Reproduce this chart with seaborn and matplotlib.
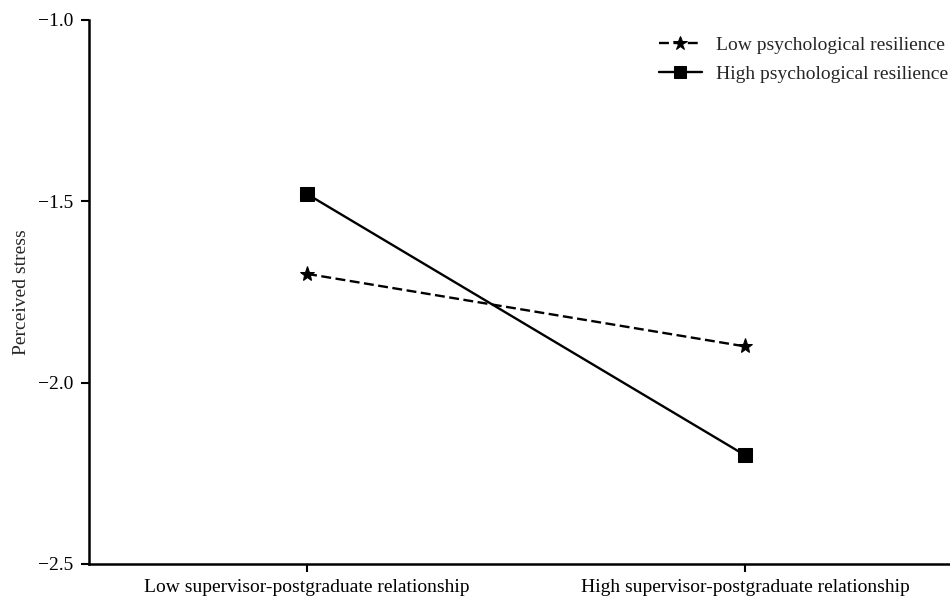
import matplotlib
matplotlib.use("Agg")
import matplotlib.pyplot as plt
import seaborn as sns
import pandas as pd

# Simple-slopes data: perceived stress by supervisor relationship and resilience
conditions = ["Low supervisor-postgraduate relationship",
              "High supervisor-postgraduate relationship"]
low_resilience = [-1.70, -1.90]
high_resilience = [-1.48, -2.20]
series_names = ["Low psychological resilience", "High psychological resilience"]
y_ticks = [-1.0, -1.5, -2.0, -2.5]

sns.set_theme(style="ticks")
plt.rcParams["font.family"] = ["Liberation Serif", "DejaVu Serif"]
FS = 14

df = pd.DataFrame({
    "pos": [0, 1, 0, 1],
    "stress": low_resilience + high_resilience,
    "group": [series_names[0]] * 2 + [series_names[1]] * 2,
})

fig = plt.figure(figsize=(9.5, 5.96), dpi=100)
ax = fig.add_axes([89 / 950, 32 / 596, (950 - 89) / 950, (564 - 20) / 596])

sns.lineplot(
    data=df, x="pos", y="stress", style="group", style_order=series_names,
    markers={series_names[0]: "*", series_names[1]: "s"},
    dashes={series_names[0]: (4.2, 1.9), series_names[1]: ""},
    color="black", linewidth=1.7, markeredgecolor="black",
    ax=ax, legend=True,
)
for line in ax.lines:
    if line.get_marker() == "*":
        line.set_markersize(11)
    else:
        line.set_markersize(10)

ax.set_xlim(-0.498, 1.468)
ax.set_ylim(-2.5, -1.0)
ax.set_xticks([0, 1])
ax.set_xticklabels(conditions, fontsize=FS)
ax.set_yticks(y_ticks)
ax.set_yticklabels([f"\u2212{abs(v):.1f}" for v in y_ticks], fontsize=FS)
ax.set_xlabel("")
ax.set_ylabel("Perceived stress", fontsize=FS, labelpad=6)

for side in ["top", "right"]:
    ax.spines[side].set_visible(False)
for side in ["left", "bottom"]:
    ax.spines[side].set_linewidth(1.8)
    ax.spines[side].set_color("black")
ax.tick_params(axis="both", direction="out", length=6, width=1.5, colors="black",
               labelcolor="black", pad=5)

leg = ax.legend(loc="upper right", frameon=False, fontsize=FS, handlelength=2.2,
                handletextpad=0.75, borderaxespad=0.0, labelspacing=0.6,
                markerscale=0.9, bbox_to_anchor=(1.007, 0.985))
for h in leg.legend_handles:
    h.set_color("black")

fig.savefig("out.png", dpi=100)
